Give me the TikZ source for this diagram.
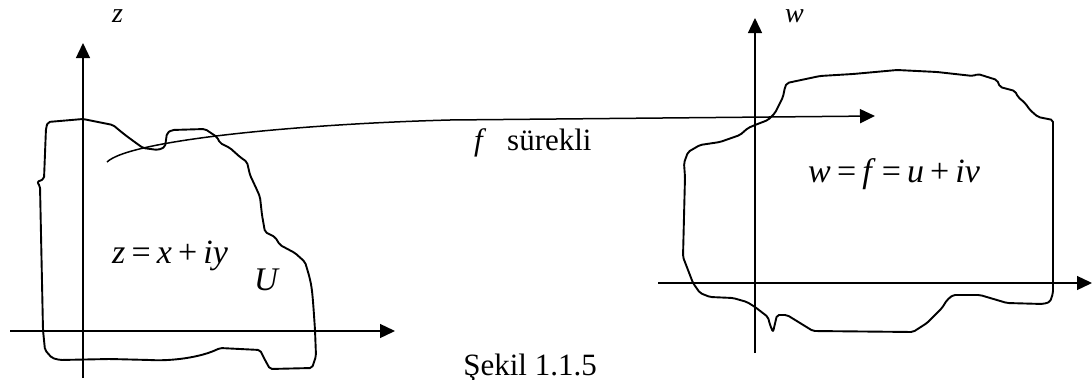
\documentclass[tikz,border=0pt]{standalone}
\usepackage{fontspec}
\setmainfont{Liberation Serif}
\usetikzlibrary{arrows.meta}
% operator with the tight spacing of the formulas
\newcommand{\opsp}[1]{\hspace{0.18em}#1\hspace{0.18em}}
\begin{document}
\begin{tikzpicture}[x=1pt,y=-1pt,
  axis/.style={line width=1.3pt,-{Triangle[length=15pt,width=14pt]}},
  region/.style={line width=1.9pt,line join=round,rounded corners=2pt},
  maparrow/.style={line width=1.5pt,-{Triangle[length=15pt,width=14pt]}},
  lbl/.style={inner sep=0pt,anchor=base west,font=\fontsize{31}{36}\selectfont},
  eqn/.style={lbl,font=\fontsize{34}{40}\selectfont},
  axlbl/.style={lbl,font=\fontsize{28}{32}\selectfont}]
\useasboundingbox (0,0) rectangle (1092,380);

% ---- z-plane ----
\coordinate (zxs) at (10,331);
\coordinate (zxe) at (395,331);
\coordinate (zys) at (83,378);
\coordinate (zye) at (83,43);
\draw[axis] (zxs) -- (zxe);
\draw[axis] (zys) -- (zye);
\node[axlbl] (zlab) at (112,23) {\textit{z}};

\draw[region] (48,122) -- (83,119) -- (113,125) .. controls (125,135) .. (143,148)
  -- (158,150) -- (165,147) -- (167,133) -- (172,130) -- (205,129) -- (217,137)
  -- (220,143) -- (230,148) -- (240,157) -- (247,162) -- (250,175) -- (257,190)
  -- (260,197) -- (262,215) -- (265,232) -- (275,237) -- (280,245) -- (295,253)
  -- (305,262) .. controls (312,285) .. (315,330) -- (316,356) -- (312,368)
  -- (270,369) -- (265,360) -- (260,350) -- (220,348) .. controls (200,358) and (170,361) .. (150,360)
  -- (110,359) -- (60,360) -- (52,358) -- (45,350) -- (43,330) -- (40,186)
  -- (37,182) -- (44,179) -- (46,128) -- cycle;

\node[eqn] (zeq) at (112,263) {\textit{z}\opsp{=}\textit{x}\opsp{+}\textit{iy}};
\node[lbl,font=\fontsize{33}{38}\selectfont] (U) at (254,290) {\textit{U}};

% ---- w-plane ----
\coordinate (wxs) at (658,283);
\coordinate (wxe) at (1092,283);
\coordinate (wys) at (755,353);
\coordinate (wye) at (755,18);
\draw[axis] (wxs) -- (wxe);
\draw[axis] (wys) -- (wye);
\node[axlbl] (wlab) at (785,23) {\textit{w}};

\draw[region] (785,87) -- (787,83) -- (820,76) -- (853,74) -- (897,70) -- (937,72)
  -- (973,76) -- (978,74) -- (997,80) -- (1000,87) -- (1015,91) -- (1018,97)
  -- (1025,103) -- (1030,110) -- (1038,117) -- (1053,120) -- (1053,293)
  -- (1050,302) -- (1043,304) -- (1007,303) -- (980,295) -- (953,295)
  -- (947,300) -- (942,308) -- (935,315) -- (927,323) -- (913,332)
  -- (813,331) -- (787,315) -- (777,315) -- (773,332) -- (770,325)
  -- (768,317) -- (755,307) -- (747,302) -- (733,298) -- (710,297)
  -- (700,293) -- (693,283) -- (683,257) -- (685,177) -- (684,163)
  -- (688,152) -- (700,145) -- (720,142) -- (740,135) -- (748,128)
  -- (755,125) -- (768,120) -- (775,113) -- (783,97) -- cycle;

\node[eqn] (weq) at (808,182) {\textit{w}\opsp{=}\textit{f}\opsp{=}\textit{u}\opsp{+}\textit{iv}};

% ---- the map f ----
\coordinate (fs) at (107,162);
\coordinate (fm) at (450,120);
\coordinate (fe) at (875,116);
\draw[maparrow] (fs) .. controls (130,140) and (300,124) .. (fm) -- (fe);
\node[lbl] (flab) at (474,150) {\makebox[33pt][l]{\textit{f}}sürekli};

% ---- caption ----
\node[lbl,anchor=base east] (cap) at (597,375) {Şekil 1.1.5};
\end{tikzpicture}
\end{document}
